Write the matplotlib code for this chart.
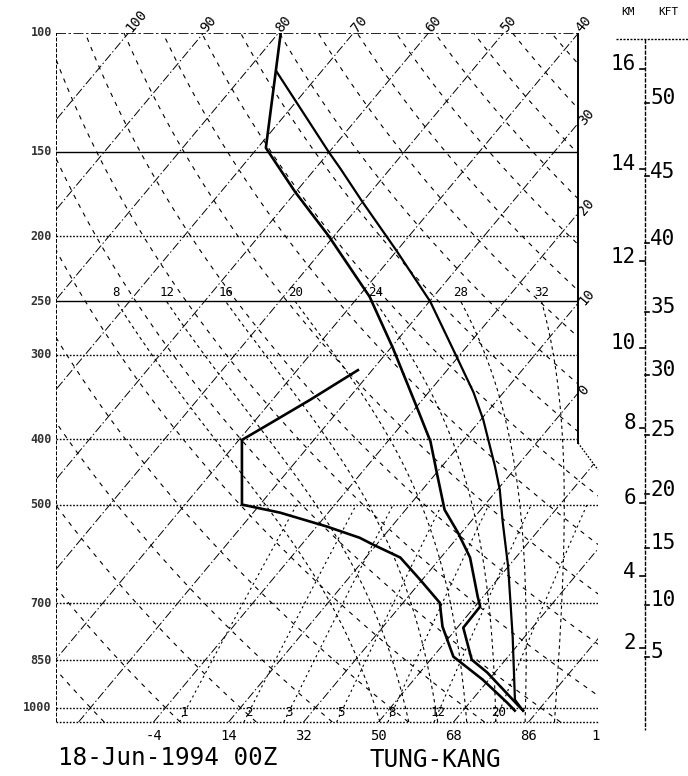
import numpy as np
import matplotlib
matplotlib.use("Agg")
import matplotlib.pyplot as plt
from matplotlib.patches import Polygon

plt.rcParams['font.family'] = ['DejaVu Sans Mono']

# ---- sounding (hPa, degC) ----
temp_p = [100, 148, 172, 200, 246, 293, 358, 403, 447, 509, 550, 599, 685, 708, 761, 849, 887, 963, 1010]
temp_t = [-79.7, -68.9, -60.1, -50.7, -38.5, -29.7, -20.0, -14.3, -10.1, -4.8, -0.5, 3.9, 9.3, 10.7, 10.8, 15.5, 19.0, 24.7, 28.0]

dewp_p = [316, 350, 377, 401, 500, 514, 539, 560, 573, 599, 646, 699, 758, 840, 909, 983, 1010]
dewp_t = [-31.9, -35.0, -37.5, -39.6, -32.4, -26.4, -18.6, -13.0, -10.5, -5.4, -0.3, 4.9, 7.9, 12.7, 19.2, 25.0, 26.9]

parcel_p = [1010, 973, 785, 618, 532, 475, 439, 374, 341, 305, 250, 210, 178, 159, 150, 114]
parcel_t = [28.0, 25.7, 18.4, 10.0, 4.4, 0.3, -2.9, -9.7, -14.0, -19.7, -29.9, -40.1, -50.0, -56.6, -60.1, -76.0]

# ---- chart furniture ----
isobars = [100, 150, 200, 250, 300, 400, 500, 700, 850, 1000]
solid_isobars = [150, 250]
isotherms = list(range(-110, 50, 10))
top_iso_labels = [-100, -90, -80, -70, -60, -50, -40]
side_iso_labels = [-30, -20, -10, 0]
bottom_c = [-20, -10, 0, 10, 20, 30, 40]
bottom_f = ["-4", "14", "32", "50", "68", "86", "1"]
dry_thetas = list(range(-40, 190, 10))
moist_tw = [8, 12, 16, 20, 24, 28, 32]
mix_ratios = [1, 2, 3, 5, 8, 12, 20]

km_vals = [16, 14, 12, 10, 8, 6, 4, 2]
km_p = [113, 159, 218, 293, 385, 497, 639, 815]
kft_vals = [50, 45, 40, 35, 30, 25, 20, 15, 10, 5]
kft_p = [127, 163, 205, 259, 321, 394, 483, 579, 704, 840]

SKEW = 32.6
P_BOT, P_TOP = 1050, 100
X_LEFT, X_FIG_RIGHT = -34.6, 49.67
X_R1, X_R2 = 35.0, 37.67
P_C1, P_C2 = 405, 444
X_HGT = 43.93


def skx(t, p):
    return np.asarray(t, float) + SKEW * np.log(1000.0 / np.asarray(p, float))


def dtdp(T, p):
    tc = T - 273.15
    es = 6.112 * np.exp(17.67 * tc / (tc + 243.5))
    rs = 0.622 * es / (p - es)
    num = 287.0 * T + 2.5e6 * rs
    den = 1004.0 + 2.5e6 ** 2 * rs * 0.622 / (287.0 * T ** 2)
    return num / den / p


def moist_adiabat(tw, p_end, n=300):
    ps = np.geomspace(1000, p_end, n)
    T = tw + 273.15
    out = [T]
    for i in range(1, n):
        dp = ps[i] - ps[i - 1]
        k1 = dtdp(T, ps[i - 1])
        k2 = dtdp(T + k1 * dp, ps[i])
        T = T + 0.5 * (k1 + k2) * dp
        out.append(T)
    return ps, np.array(out) - 273.15


def mix_td(w, p):
    e = w / 1000.0 * p / (0.622 + w / 1000.0)
    a = np.log(e / 6.112)
    return 243.5 * a / (17.67 - a)


fig = plt.figure(figsize=(6.88, 7.76), dpi=100)
ax = fig.add_axes([56 / 688, 54 / 776, 632 / 688, 689 / 776])
ax.set_yscale('log')
ax.set_ylim(P_BOT, P_TOP)
ax.set_xlim(X_LEFT, X_FIG_RIGHT)
ax.axis('off')

clip = Polygon([(X_LEFT, P_BOT), (X_LEFT, P_TOP), (X_R1, P_TOP), (X_R1, P_C1),
                (X_R2, P_C2), (X_R2, P_BOT)], closed=True, transform=ax.transData)

pp = np.geomspace(P_BOT, P_TOP, 200)


def grid_line(x, y, **kw):
    ln, = ax.plot(x, y, color='k', **kw)
    ln.set_clip_path(clip)
    return ln


# isotherms
for t in isotherms:
    grid_line(skx(t, pp), pp, lw=0.7, ls=(0, (9, 2.5, 1.5, 2.5)))

# dry adiabats
for th in dry_thetas:
    tt = (th + 273.15) * (pp / 1000.0) ** 0.2857 - 273.15
    grid_line(skx(tt, pp), pp, lw=0.8, ls=(0, (4, 5)))

# moist adiabats
for tw in moist_tw:
    p_up, t_up = moist_adiabat(tw, 250)
    p_dn, t_dn = moist_adiabat(tw, P_BOT, 40)
    p_all = np.concatenate([p_dn[::-1], p_up[1:]])
    t_all = np.concatenate([t_dn[::-1], t_up[1:]])
    grid_line(skx(t_all, p_all), p_all, lw=0.8, ls=(0, (3, 3)))
    ax.annotate(str(tw), (skx(t_up[-1], 250), 250), xytext=(0, 1.5), textcoords='offset points',
                ha='center', va='bottom', fontsize=9)

# mixing ratio lines
pm = np.geomspace(P_BOT, 500, 60)
for w in mix_ratios:
    grid_line(skx(mix_td(w, pm), pm), pm, lw=0.8, ls=(0, (2, 3)))
    ax.text(skx(mix_td(w, 1016), 1016), 1016, str(w), ha='center', va='center', fontsize=9)

# isobars
for p in isobars:
    if p in solid_isobars:
        grid_line([X_LEFT, X_R2], [p, p], lw=1.0, ls='-')
    elif p == 100:
        grid_line([X_LEFT, X_R2], [p, p], lw=1.2, ls=(0, (6, 1.5, 1.5, 1.5)))
    else:
        grid_line([X_LEFT, X_R2], [p, p], lw=1.0, ls=(0, (1.2, 1.2)))
    ax.annotate(str(p), (X_LEFT, p), xytext=(-3, 0), textcoords='offset points',
                ha='right', va='center', fontsize=8.5, fontweight='bold', color='#333333')

# borders
ax.plot([X_LEFT, X_LEFT], [P_BOT, P_TOP], color='k', lw=1.4, ls=(0, (2, 0.8)))
ax.plot([X_R1, X_R1], [P_TOP, P_C1], color='k', lw=1.4)
ax.plot([X_R1, X_R2], [P_C1, P_C2], color='k', lw=1.0, ls=(0, (1.2, 1.2)))
ax.plot([X_LEFT, X_R2], [P_BOT, P_BOT], color='k', lw=1.0, ls=(0, (1.2, 1.2)), clip_on=False)

# isotherm labels
for t in top_iso_labels:
    ax.annotate(str(abs(t)), (skx(t, P_TOP), P_TOP), xytext=(0, 2), textcoords='offset points',
                rotation=50, rotation_mode='anchor', ha='left', va='center', fontsize=10,
                annotation_clip=False)
for t in side_iso_labels:
    p_hit = 1000.0 * np.exp(-(X_R1 - t) / SKEW)
    ax.annotate(str(abs(t)), (X_R1, p_hit), xytext=(2, 0), textcoords='offset points',
                rotation=50, rotation_mode='anchor', ha='left', va='center', fontsize=10)
for t, lab in zip(bottom_c, bottom_f):
    ax.annotate(lab, (skx(t, P_BOT), P_BOT), xytext=(-6 if t == 40 else 0, -5),
                textcoords='offset points', ha='center', va='top', fontsize=10,
                annotation_clip=False)

# sounding
ax.plot(skx(parcel_t, parcel_p), parcel_p, color='k', lw=1.6)
ax.plot(skx(temp_t, temp_p), temp_p, color='k', lw=1.9)
ax.plot(skx(dewp_t, dewp_p), dewp_p, color='k', lw=1.9)

# height scale
ax.plot([X_HGT, X_HGT], [102, 1080], color='k', lw=1.0, ls=(0, (3, 1)), clip_on=False)
ax.plot([X_HGT - 3.8, X_FIG_RIGHT], [102, 102], color='k', lw=1.0, ls=(0, (1.5, 1)), clip_on=False)
for v, p in zip(km_vals, km_p):
    ax.plot([X_HGT - 0.7, X_HGT], [p, p], color='k', lw=1.2)
    ax.annotate(str(v), (X_HGT - 1.2, p), xytext=(0, -1), textcoords='offset points',
                ha='right', va='baseline', fontsize=15)
for v, p in zip(kft_vals, kft_p):
    ax.plot([X_HGT, X_HGT + 0.5], [p, p], color='k', lw=1.2)
    ax.annotate(str(v), (X_HGT + 0.7, p), xytext=(0, -1), textcoords='offset points',
                ha='left', va='baseline', fontsize=15)

fig.text(628 / 688, 1 - 12 / 776, "KM", ha='center', va='center', fontsize=8)
fig.text(668 / 688, 1 - 12 / 776, "KFT", ha='center', va='center', fontsize=8)

fig.text(58 / 688, 1 - 758 / 776, "18-Jun-1994 00Z", ha='left', va='center', fontsize=17.5)
fig.text(370 / 688, 1 - 760 / 776, "TUNG-KANG", ha='left', va='center', fontsize=17.5)

fig.savefig("out.png", dpi=100, facecolor='white')
